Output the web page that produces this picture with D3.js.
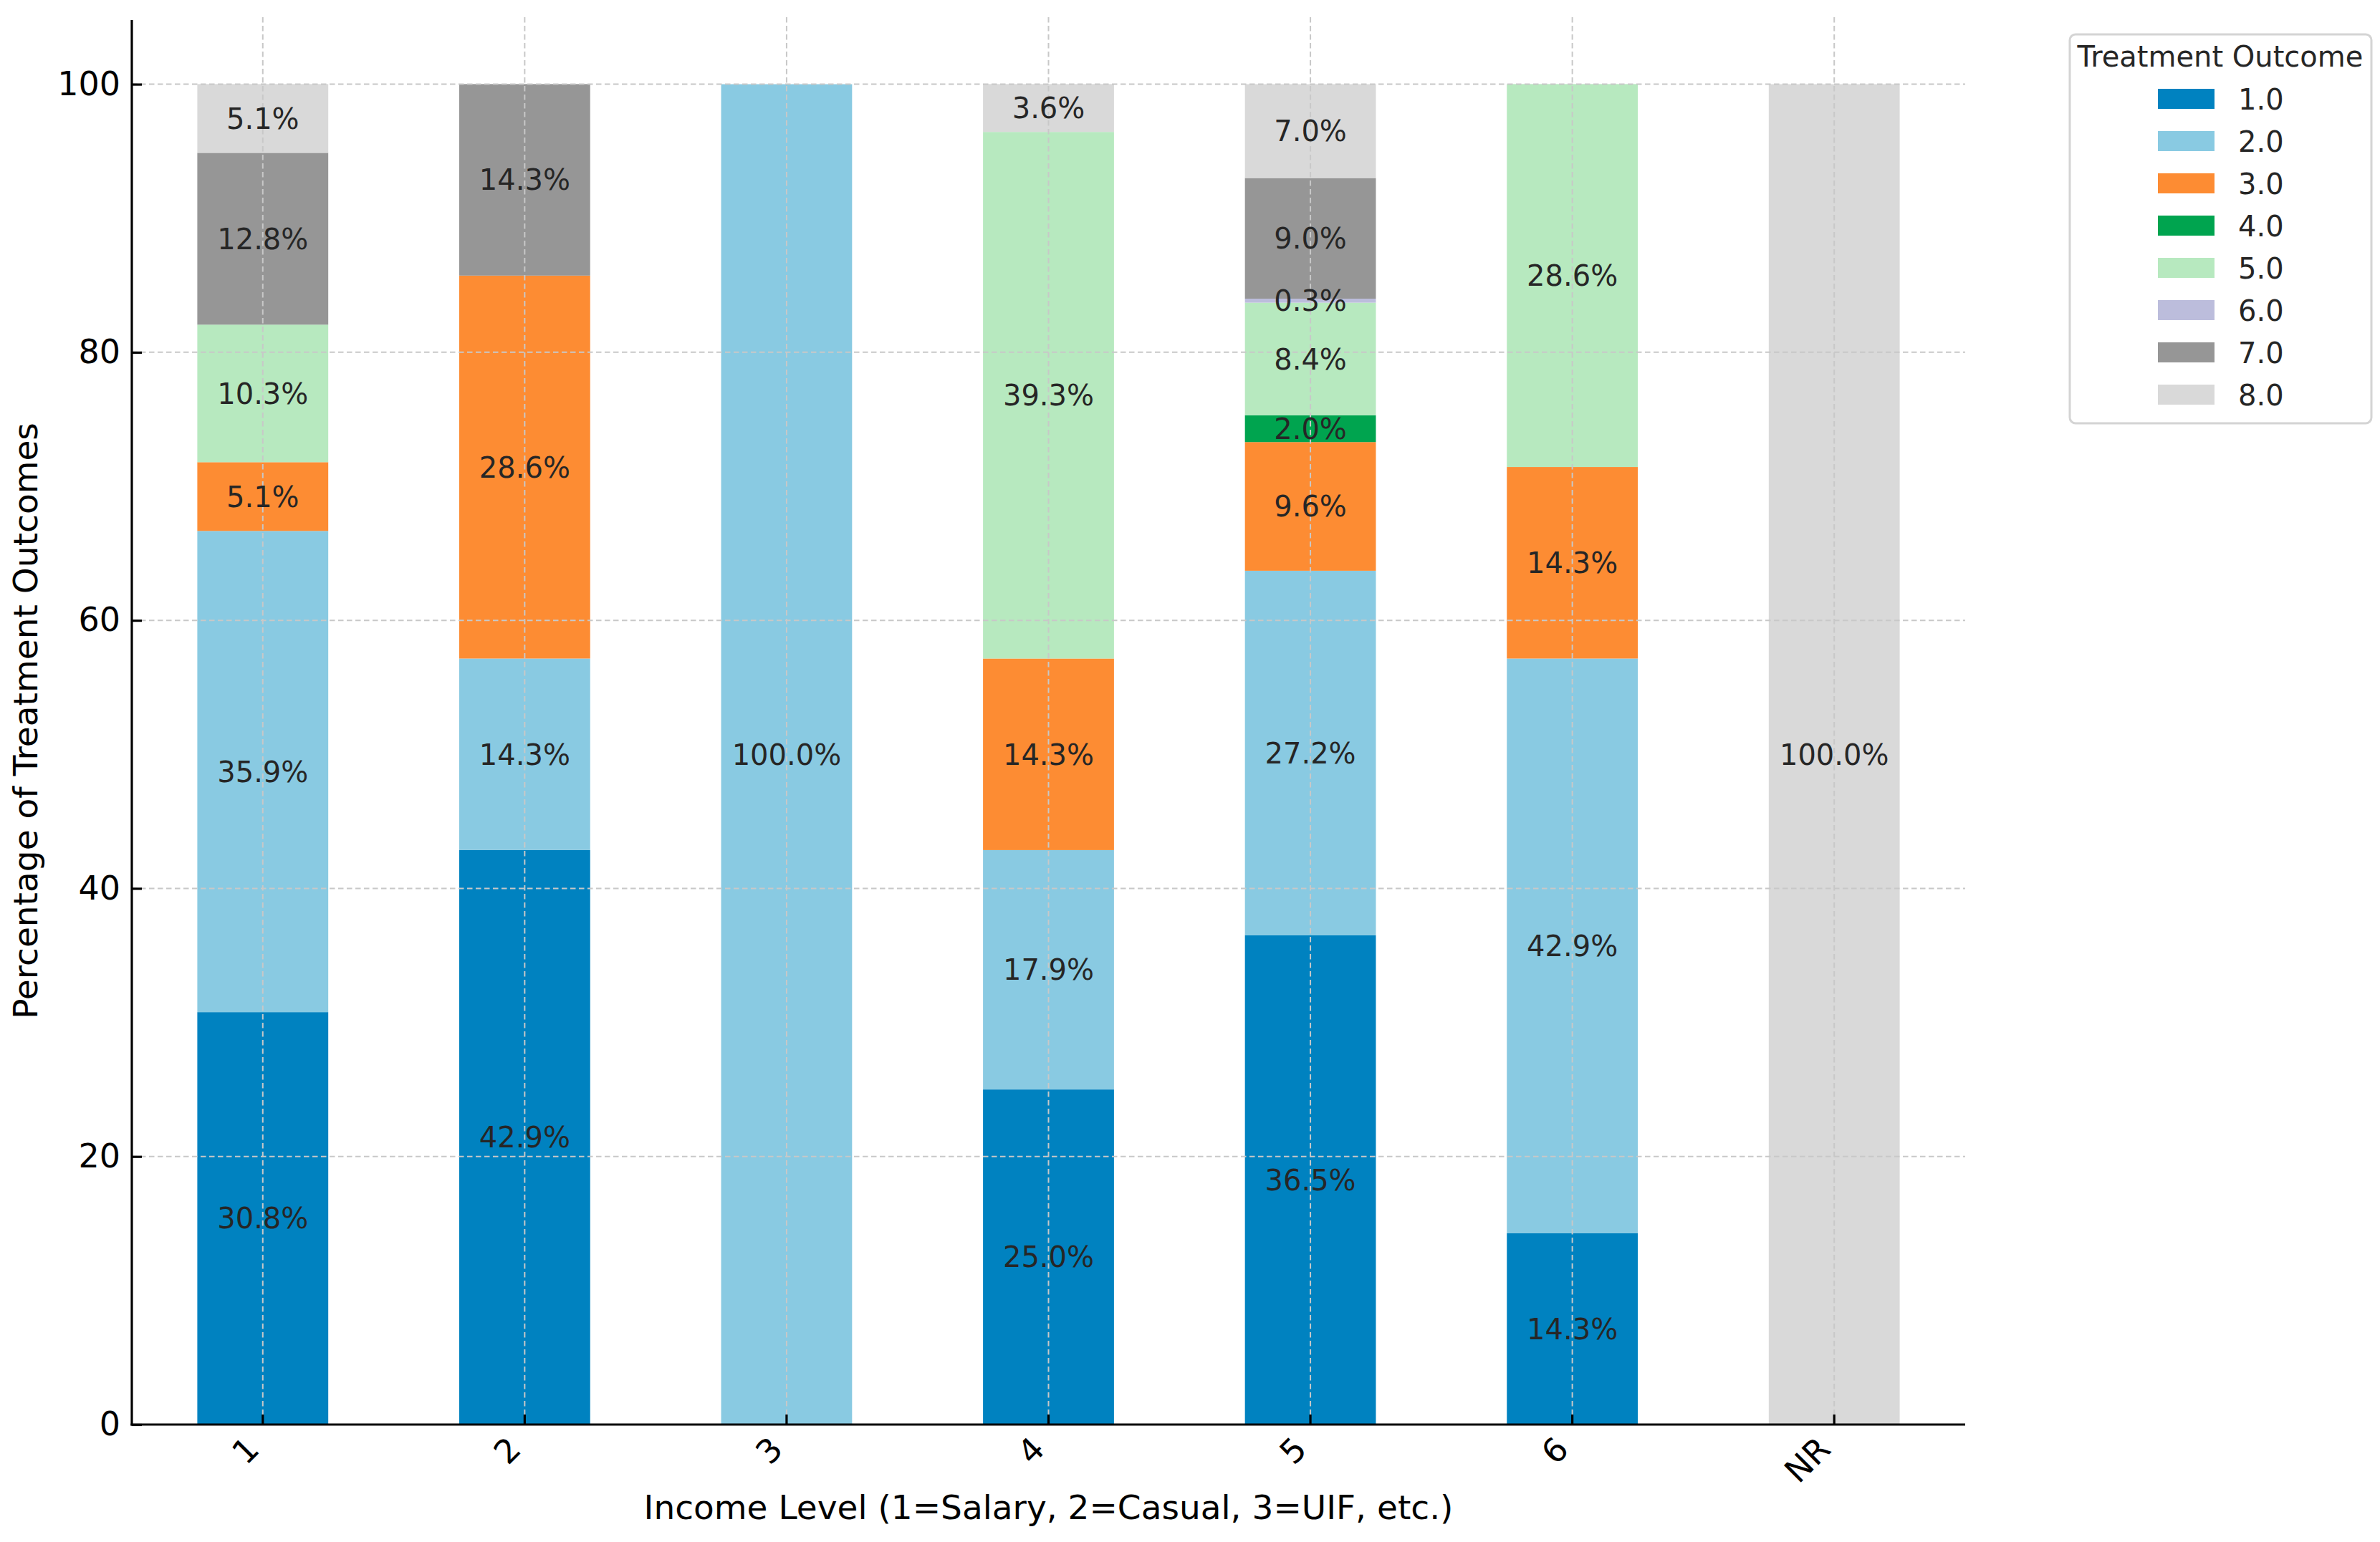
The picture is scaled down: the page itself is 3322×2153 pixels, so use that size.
<!DOCTYPE html>
<html>
<head>
<meta charset="utf-8">
<script src="https://cdn.jsdelivr.net/npm/d3@7"></script>
<style>
  body { margin: 0; background: #fff; }
  svg { display: block; font-family: "DejaVu Sans", sans-serif; }
</style>
</head>
<body>
<div id="chart"></div>
<script>
// datos (porcentaje por nivel de ingreso)
const incomeLevels = ["1", "2", "3", "4", "5", "6", "NR"];
const outcomeKeys = ["1.0", "2.0", "3.0", "4.0", "5.0", "6.0", "7.0", "8.0"];

const outcome1 = [30.77, 42.86, 0, 25.0, 36.5, 14.29, 0];
const outcome2 = [35.9, 14.29, 100.0, 17.86, 27.2, 42.86, 0];
const outcome3 = [5.13, 28.57, 0, 14.29, 9.6, 14.29, 0];
const outcome4 = [0, 0, 0, 0, 2.0, 0, 0];
const outcome5 = [10.26, 0, 0, 39.29, 8.4, 28.57, 0];
const outcome6 = [0, 0, 0, 0, 0.3, 0, 0];
const outcome7 = [12.82, 14.29, 0, 0, 9.0, 0, 0];
const outcome8 = [5.13, 0, 0, 3.57, 7.0, 0, 100.0];

const yTicks = [0, 20, 40, 60, 80, 100];

const outcomeColors = ["#0082c0", "#89cae2", "#fd8c33", "#00a44f",
                       "#b7e9bf", "#bcbddc", "#969696", "#d9d9d9"];

const WIDTH = 3322;
const HEIGHT = 2153;
const PLOT = { left: 184, right: 2743, top: 24, bottom: 1989 };

const svg = d3.select("#chart").append("svg")
    .attr("width", WIDTH).attr("height", HEIGHT);

// tabla para d3.stack
const series = [outcome1, outcome2, outcome3, outcome4, outcome5, outcome6, outcome7, outcome8];
const table = incomeLevels.map((lvl, i) => {
    const row = { level: lvl };
    outcomeKeys.forEach((k, j) => row[k] = series[j][i]);
    return row;
});
const stacked = d3.stack().keys(outcomeKeys)(table);

const x = d3.scaleBand()
    .domain(incomeLevels)
    .range([PLOT.left, PLOT.right])
    .paddingInner(0.5)
    .paddingOuter(0.25);

const y = d3.scaleLinear()
    .domain([0, 105])
    .range([PLOT.bottom, PLOT.top]);

const color = d3.scaleOrdinal().domain(outcomeKeys).range(outcomeColors);

// barras
const barras = svg.append("g").attr("id", "barras");
barras.selectAll("g")
    .data(stacked)
    .join("g")
    .attr("fill", d => color(d.key))
    .selectAll("rect")
    .data(d => d)
    .join("rect")
    .attr("x", d => x(d.data.level))
    .attr("width", x.bandwidth())
    .attr("y", d => y(d[1]))
    .attr("height", d => y(d[0]) - y(d[1]));

// grilla (encima de las barras, como matplotlib)
const grid = svg.append("g").attr("id", "grid")
    .attr("stroke", "#c8c8c8").attr("stroke-width", 2)
    .attr("stroke-dasharray", "7.5,4.5");
grid.selectAll(".hg").data(yTicks.filter(t => t > 0)).join("line")
    .attr("x1", PLOT.left).attr("x2", PLOT.right)
    .attr("y1", d => y(d)).attr("y2", d => y(d));
grid.selectAll(".vg").data(incomeLevels).join("line")
    .attr("x1", d => x(d) + x.bandwidth() / 2).attr("x2", d => x(d) + x.bandwidth() / 2)
    .attr("y1", PLOT.top).attr("y2", PLOT.bottom);

// etiquetas de porcentaje
const labels = svg.append("g").attr("id", "valores")
    .attr("font-size", 40).attr("fill", "#262626").attr("text-anchor", "middle");
stacked.forEach(s => {
    labels.selectAll(null)
        .data(s.filter(d => d[1] - d[0] > 0))
        .join("text")
        .attr("x", d => x(d.data.level) + x.bandwidth() / 2)
        .attr("y", d => y((d[0] + d[1]) / 2))
        .attr("dy", "0.36em")
        .text(d => (d[1] - d[0]).toFixed(1) + "%");
});

// eje Y
const ejeY = d3.axisLeft(y).tickValues(yTicks).tickSize(-14).tickPadding(16);
const gY = svg.append("g")
    .attr("transform", `translate(${PLOT.left},0)`)
    .call(ejeY);
gY.select(".domain").remove();
gY.selectAll(".tick line").attr("stroke", "#000").attr("stroke-width", 3.2);
gY.selectAll(".tick text")
    .attr("font-size", 46).attr("fill", "#000")
    .attr("font-family", "DejaVu Sans");

// eje X
const ejeX = d3.axisBottom(x).tickSize(-14).tickFormat("");
const gX = svg.append("g")
    .attr("transform", `translate(0,${PLOT.bottom})`)
    .call(ejeX);
gX.select(".domain").remove();
gX.selectAll(".tick line").attr("stroke", "#000").attr("stroke-width", 3.2);

// etiquetas X rotadas 45 grados, alineadas a la derecha
const xLab = svg.append("g").attr("font-size", 46).attr("fill", "#000");
xLab.selectAll("text")
    .data(incomeLevels)
    .join("text")
    .attr("text-anchor", "middle")
    .text(d => d)
    .each(function(d) {
        const fs = 46;
        const w = this.getComputedTextLength();
        const h = 1.164 * fs;
        const W = (w + h) * Math.SQRT1_2;
        const tx = x(d) + x.bandwidth() / 2;
        let cx = tx - W / 2 + 5;
        let cy = PLOT.bottom + 14 + W / 2 - 7;
        d3.select(this)
            .attr("transform", `translate(${cx},${cy}) rotate(-45)`)
            .attr("y", 0.346 * fs);
    });

// spines
svg.append("line")
    .attr("x1", PLOT.left).attr("x2", PLOT.left)
    .attr("y1", PLOT.top + 4).attr("y2", PLOT.bottom + 1.6)
    .attr("stroke", "#000").attr("stroke-width", 3.2);
svg.append("line")
    .attr("x1", PLOT.left - 1.6).attr("x2", PLOT.right)
    .attr("y1", PLOT.bottom).attr("y2", PLOT.bottom)
    .attr("stroke", "#000").attr("stroke-width", 3.2);

// titulos de ejes
svg.append("text")
    .attr("x", (PLOT.left + PLOT.right) / 2).attr("y", 2121)
    .attr("text-anchor", "middle").attr("font-size", 47)
    .text("Income Level (1=Salary, 2=Casual, 3=UIF, etc.)");
svg.append("text")
    .attr("transform", `translate(52,${(PLOT.top + PLOT.bottom) / 2}) rotate(-90)`)
    .attr("text-anchor", "middle").attr("font-size", 47)
    .text("Percentage of Treatment Outcomes");

// leyenda
const legend = svg.append("g").attr("id", "leyenda");
legend.append("rect")
    .attr("x", 2889).attr("y", 48).attr("width", 421).attr("height", 543)
    .attr("rx", 8).attr("fill", "#fff").attr("fill-opacity", 0.8)
    .attr("stroke", "#d4d4d4").attr("stroke-width", 3);
legend.append("text")
    .attr("x", 3099).attr("y", 93)
    .attr("text-anchor", "middle").attr("font-size", 40).attr("fill", "#262626")
    .text("Treatment Outcome");
const items = legend.selectAll(".item")
    .data(outcomeKeys)
    .join("g")
    .attr("transform", (d, i) => `translate(0,${138 + i * 59})`);
items.append("rect")
    .attr("x", 3012).attr("y", -14).attr("width", 79).attr("height", 28)
    .attr("fill", d => color(d));
items.append("text")
    .attr("x", 3124).attr("y", 14.5)
    .attr("font-size", 40).attr("fill", "#262626")
    .text(d => d);
</script>
</body>
</html>
